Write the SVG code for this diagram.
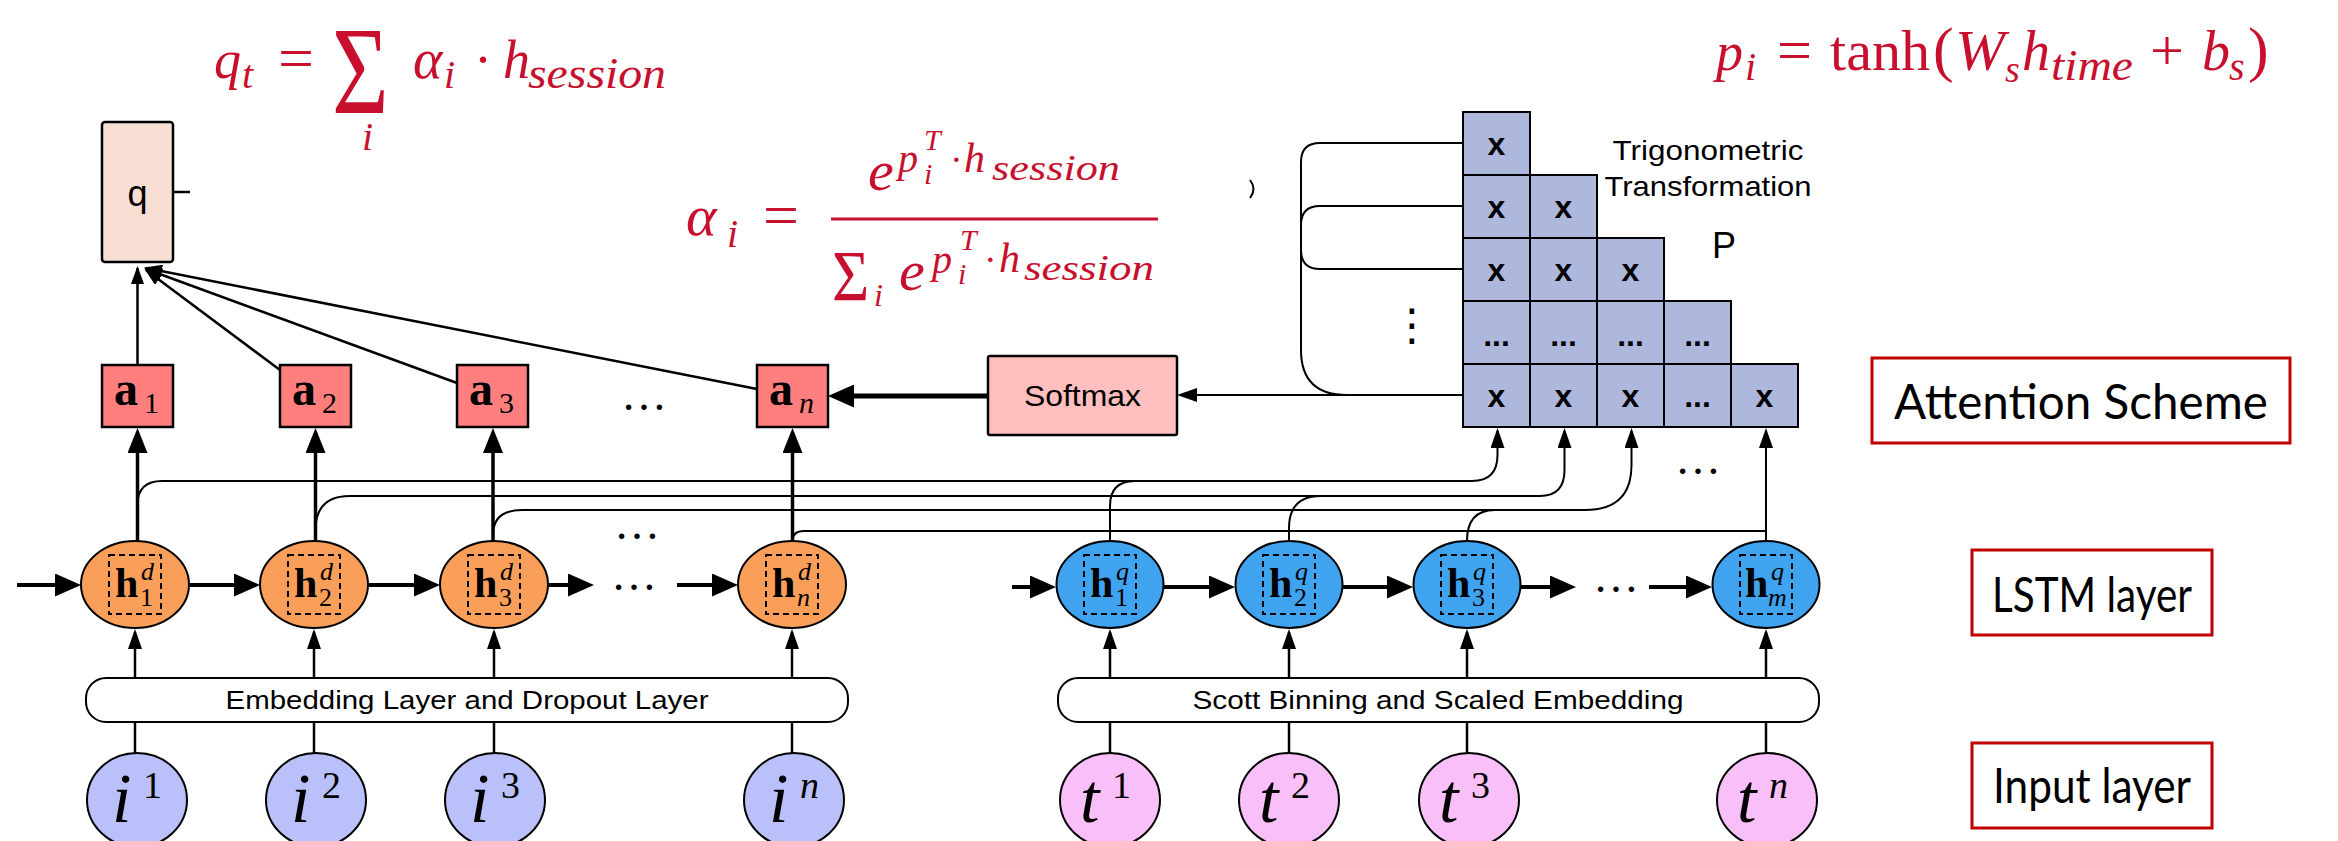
<svg xmlns="http://www.w3.org/2000/svg" width="2338" height="841" viewBox="0 0 2338 841">
<style>
.m{font-family:"Liberation Serif",serif;font-style:italic;fill:#C8102E}
.mu{font-family:"Liberation Serif",serif;fill:#C8102E}
.sans{font-family:"Liberation Sans",Arial,sans-serif;fill:#000}
.lbl{font-family:Lato,"Open Sans",sans-serif;font-size:48px;fill:#000}
.lbox{fill:#fff;stroke:#C00000;stroke-width:3}
.ab{font-family:"Liberation Serif",serif;font-weight:bold;font-size:48px}
.sr{font-family:"Liberation Serif",serif;font-size:30px}
.si{font-family:"Liberation Serif",serif;font-style:italic;font-size:30px}
.hb{font-family:"Liberation Serif",serif;font-weight:bold;font-size:42px}
.sup{font-family:"Liberation Serif",serif;font-style:italic;font-size:26px}
.sub{font-family:"Liberation Serif",serif;font-size:26px}
.big{font-family:"Liberation Serif",serif;font-style:italic;font-size:70px}
.bsup{font-family:"Liberation Serif",serif;font-size:38px}
.bsupi{font-family:"Liberation Serif",serif;font-style:italic;font-size:38px}
.dots{font-family:"Liberation Serif",serif;font-size:46px}
.cell{fill:#AEB8DD;stroke:#000;stroke-width:2}
.cx{font-family:"Liberation Sans",Arial,sans-serif;font-weight:bold;font-size:32px;text-anchor:middle}
.abox{fill:#FF7F7F;stroke:#000;stroke-width:2.5}
.or{fill:#FA9F5A;stroke:#000;stroke-width:2}
.bl{fill:#3FA3F0;stroke:#000;stroke-width:2}
.pi{fill:#BAC0FA;stroke:#000;stroke-width:2}
.pt{fill:#F9BFF8;stroke:#000;stroke-width:2}
.dash{fill:none;stroke:#000;stroke-width:2;stroke-dasharray:6,4}
.ln{fill:none;stroke:#000;stroke-width:2}
.ln25{fill:none;stroke:#000;stroke-width:2.5}
.thick{fill:none;stroke:#000;stroke-width:4}
.vth{fill:none;stroke:#000;stroke-width:3.5}
.rbox{fill:#fff;stroke:#000;stroke-width:2}
</style>
<defs>
<marker id="ht" markerUnits="userSpaceOnUse" markerWidth="26" markerHeight="23" refX="20" refY="11.5" orient="auto"><path d="M0,0 L26,11.5 L0,23 z" fill="#000"/></marker>
<marker id="hv" markerUnits="userSpaceOnUse" markerWidth="25" markerHeight="20" refX="20" refY="10" orient="auto"><path d="M0,0 L25,10 L0,20 z" fill="#000"/></marker>
<marker id="hs" markerUnits="userSpaceOnUse" markerWidth="20" markerHeight="14" refX="17" refY="7" orient="auto"><path d="M0,0 L20,7 L0,14 z" fill="#000"/></marker>
<marker id="hq" markerUnits="userSpaceOnUse" markerWidth="18" markerHeight="13" refX="16" refY="6.5" orient="auto"><path d="M0,0 L18,6.5 L0,13 z" fill="#000"/></marker>
</defs>
<rect width="2338" height="841" fill="#fff"/>

<!-- formulas -->
<g id="formula-q">
<text class="m" x="214" y="78" font-size="54">q</text>
<text class="m" x="242" y="88" font-size="40">t</text>
<text class="mu" x="278" y="78" font-size="60" textLength="36" lengthAdjust="spacingAndGlyphs">=</text>
<text class="mu" transform="translate(332,113) scale(0.87,1.12)" x="0" y="0" font-size="112">Σ</text>
<text class="m" x="362" y="150" font-size="40">i</text>
<text class="m" x="413" y="78" font-size="56">α</text>
<text class="m" x="444" y="88" font-size="40">i</text>
<text class="mu" x="474" y="78" font-size="54">·</text>
<text class="m" x="503" y="78" font-size="54">h</text>
<text class="m" x="528" y="88" font-size="44" textLength="138" lengthAdjust="spacingAndGlyphs">session</text>
</g>
<g id="formula-alpha">
<text class="m" x="686" y="235" font-size="58">α</text>
<text class="m" x="727" y="247" font-size="40">i</text>
<text class="mu" x="763" y="235" font-size="60" textLength="36" lengthAdjust="spacingAndGlyphs">=</text>
<line x1="831" y1="219" x2="1158" y2="219" stroke="#C8102E" stroke-width="3"/>
<text class="m" x="868" y="190" font-size="58">e</text>
<text class="m" x="898" y="172" font-size="40">p</text>
<text class="m" x="924" y="150" font-size="30">T</text>
<text class="m" x="924" y="184" font-size="30">i</text>
<text class="mu" x="950" y="172" font-size="38">·</text>
<text class="m" x="964" y="172" font-size="42">h</text>
<text class="m" x="992" y="180" font-size="36" textLength="128" lengthAdjust="spacingAndGlyphs">session</text>
<text class="mu" transform="translate(832,300) scale(0.89,1)" x="0" y="0" font-size="72">Σ</text>
<text class="m" x="874" y="306" font-size="32">i</text>
<text class="m" x="899" y="290" font-size="58">e</text>
<text class="m" x="932" y="273" font-size="40">p</text>
<text class="m" x="960" y="250" font-size="30">T</text>
<text class="m" x="958" y="284" font-size="30">i</text>
<text class="mu" x="984" y="272" font-size="38">·</text>
<text class="m" x="999" y="272" font-size="42">h</text>
<text class="m" x="1024" y="280" font-size="36" textLength="130" lengthAdjust="spacingAndGlyphs">session</text>
</g>
<g id="formula-p">
<text class="m" x="1716" y="70" font-size="54">p</text>
<text class="m" x="1745" y="80" font-size="40">i</text>
<text class="mu" x="1777" y="70" font-size="60" textLength="35" lengthAdjust="spacingAndGlyphs">=</text>
<text class="mu" x="1830" y="70" font-size="56" textLength="100" lengthAdjust="spacingAndGlyphs">tanh</text>
<text class="mu" x="1933" y="70" font-size="62">(</text>
<text class="m" x="1955" y="70" font-size="56" textLength="50" lengthAdjust="spacingAndGlyphs">W</text>
<text class="m" x="2005" y="82" font-size="38">s</text>
<text class="m" x="2022" y="70" font-size="56">h</text>
<text class="m" x="2051" y="80" font-size="44" textLength="82" lengthAdjust="spacingAndGlyphs">time</text>
<text class="mu" x="2150" y="70" font-size="56" textLength="34" lengthAdjust="spacingAndGlyphs">+</text>
<text class="m" x="2202" y="70" font-size="56">b</text>
<text class="m" x="2229" y="80" font-size="40">s</text>
<text class="mu" x="2248" y="70" font-size="62">)</text>
</g>

<!-- connectors -->
<g id="connectors">
<path class="ln25" d="M137.5,365 V268" marker-end="url(#hq)"/>
<path class="ln25" d="M280,370 L146,270" marker-end="url(#hq)"/>
<path class="ln25" d="M457,383 L146,269" marker-end="url(#hq)"/>
<path class="ln25" d="M757,389 L146,268" marker-end="url(#hq)"/>
<path class="ln25" d="M173,192 H190"/>
<path d="M988,396 H834" stroke="#000" stroke-width="5" fill="none" marker-end="url(#ht)"/>
<path class="ln" d="M1463,395 H1180" marker-end="url(#hs)"/>
<path class="ln" d="M1463,143 H1320 Q1301,143 1301,162 V350 Q1301,395 1347,395"/>
<path class="ln" d="M1463,206 H1320 Q1301,206 1301,225"/>
<path class="ln" d="M1463,269 H1320 Q1301,269 1301,250"/>
<path class="vth" d="M137.5,541 V433" marker-end="url(#hv)"/>
<path class="vth" d="M315.5,541 V433" marker-end="url(#hv)"/>
<path class="vth" d="M493,541 V433" marker-end="url(#hv)"/>
<path class="vth" d="M792.5,541 V433" marker-end="url(#hv)"/>
<path class="ln" d="M137.5,505 Q137.5,481 162,481 H1472 Q1497.5,481 1497.5,455 V431" marker-end="url(#hs)"/>
<path class="ln" d="M1110,541 V506 Q1110,481 1135,481"/>
<path class="ln" d="M315.5,530 Q315.5,496 350,496 H1540 Q1564.5,496 1564.5,470 V431" marker-end="url(#hs)"/>
<path class="ln" d="M1289,541 V528 Q1289,496 1321,496"/>
<path class="ln" d="M493,535 Q493,510 522,510 H1585 Q1631.5,510 1631.5,465 V431" marker-end="url(#hs)"/>
<path class="ln" d="M1467,541 Q1467,510 1495,510"/>
<path class="ln" d="M792.5,541 Q792.5,531 804,531 H1766"/>
<path class="ln" d="M1766,541 V431" marker-end="url(#hs)"/>
<path class="thick" d="M17,585 H75" marker-end="url(#ht)"/>
<path class="thick" d="M189,585 H254" marker-end="url(#ht)"/>
<path class="thick" d="M368,585 H434" marker-end="url(#ht)"/>
<path class="thick" d="M548,585 H588" marker-end="url(#ht)"/>
<path class="thick" d="M677,585 H732" marker-end="url(#ht)"/>
<path class="thick" d="M1012,587 H1050" marker-end="url(#ht)"/>
<path class="thick" d="M1164,587 H1229" marker-end="url(#ht)"/>
<path class="thick" d="M1342,587 H1407" marker-end="url(#ht)"/>
<path class="thick" d="M1521,587 H1570" marker-end="url(#ht)"/>
<path class="thick" d="M1649,587 H1706" marker-end="url(#ht)"/>
<path class="ln25" d="M135,678 V632" marker-end="url(#hs)"/>
<path class="ln25" d="M314,678 V632" marker-end="url(#hs)"/>
<path class="ln25" d="M494,678 V632" marker-end="url(#hs)"/>
<path class="ln25" d="M792,678 V632" marker-end="url(#hs)"/>
<path class="ln25" d="M1110,678 V632" marker-end="url(#hs)"/>
<path class="ln25" d="M1289,678 V632" marker-end="url(#hs)"/>
<path class="ln25" d="M1467,678 V632" marker-end="url(#hs)"/>
<path class="ln25" d="M1766,678 V632" marker-end="url(#hs)"/>
<path class="ln25" d="M135,753 V722"/>
<path class="ln25" d="M314,753 V722"/>
<path class="ln25" d="M494,753 V722"/>
<path class="ln25" d="M792,753 V722"/>
<path class="ln25" d="M1110,753 V722"/>
<path class="ln25" d="M1289,753 V722"/>
<path class="ln25" d="M1467,753 V722"/>
<path class="ln25" d="M1766,753 V722"/>
</g>

<path class="ln" d="M1250,180 Q1257,189 1250,198"/>

<text class="dots" x="611" y="590">…</text>
<text class="dots" x="614" y="539">…</text>
<text class="dots" x="621" y="410">…</text>
<text class="dots" x="1593" y="592">…</text>
<text class="dots" x="1675" y="474">…</text>
<text x="1412" y="340" font-family="DejaVu Sans,sans-serif" font-size="44" text-anchor="middle">⋮</text>

<g id="q">
<rect x="102" y="122" width="71" height="140" rx="3" fill="#F9DFD3" stroke="#000" stroke-width="2.5"/>
<text class="sans" x="137.5" y="206" font-size="36" text-anchor="middle">q</text>
</g>

<g id="a1"><rect class="abox" x="102" y="365" width="71" height="62"/><text class="ab" x="114" y="405">a</text><text class="sr" x="144" y="413">1</text></g>
<g id="a2"><rect class="abox" x="280" y="365" width="71" height="62"/><text class="ab" x="292" y="405">a</text><text class="sr" x="322" y="413">2</text></g>
<g id="a3"><rect class="abox" x="457" y="365" width="71" height="62"/><text class="ab" x="469" y="405">a</text><text class="sr" x="499" y="413">3</text></g>
<g id="an"><rect class="abox" x="757" y="365" width="71" height="62"/><text class="ab" x="769" y="405">a</text><text class="si" x="799" y="413">n</text></g>

<g id="softmax">
<rect x="988" y="356" width="189" height="79" rx="2" fill="#FFBFBF" stroke="#000" stroke-width="2.5"/>
<text class="sans" x="1082.5" y="406" font-size="30" text-anchor="middle" textLength="117" lengthAdjust="spacingAndGlyphs">Softmax</text>
</g>

<g id="grid">
<rect class="cell" x="1463" y="112" width="67" height="63"/>
<rect class="cell" x="1463" y="175" width="67" height="63"/>
<rect class="cell" x="1530" y="175" width="67" height="63"/>
<rect class="cell" x="1463" y="238" width="67" height="63"/>
<rect class="cell" x="1530" y="238" width="67" height="63"/>
<rect class="cell" x="1597" y="238" width="67" height="63"/>
<rect class="cell" x="1463" y="301" width="67" height="63"/>
<rect class="cell" x="1530" y="301" width="67" height="63"/>
<rect class="cell" x="1597" y="301" width="67" height="63"/>
<rect class="cell" x="1664" y="301" width="67" height="63"/>
<rect class="cell" x="1463" y="364" width="67" height="63"/>
<rect class="cell" x="1530" y="364" width="67" height="63"/>
<rect class="cell" x="1597" y="364" width="67" height="63"/>
<rect class="cell" x="1664" y="364" width="67" height="63"/>
<rect class="cell" x="1731" y="364" width="67" height="63"/>
<text class="cx" x="1496.5" y="155">x</text>
<text class="cx" x="1496.5" y="218">x</text>
<text class="cx" x="1563.5" y="218">x</text>
<text class="cx" x="1496.5" y="281">x</text>
<text class="cx" x="1563.5" y="281">x</text>
<text class="cx" x="1630.5" y="281">x</text>
<text class="cx" x="1496.5" y="346">...</text>
<text class="cx" x="1563.5" y="346">...</text>
<text class="cx" x="1630.5" y="346">...</text>
<text class="cx" x="1697.5" y="346">...</text>
<text class="cx" x="1496.5" y="407">x</text>
<text class="cx" x="1563.5" y="407">x</text>
<text class="cx" x="1630.5" y="407">x</text>
<text class="cx" x="1697.5" y="407">...</text>
<text class="cx" x="1764.5" y="407">x</text>
<text class="sans" x="1708" y="160" font-size="28" text-anchor="middle" textLength="191" lengthAdjust="spacingAndGlyphs">Trigonometric</text>
<text class="sans" x="1708" y="196" font-size="28" text-anchor="middle" textLength="207" lengthAdjust="spacingAndGlyphs">Transformation</text>
<text class="sans" x="1712" y="258" font-size="36">P</text>
</g>

<g id="hd1"><ellipse class="or" cx="135" cy="584.5" rx="54" ry="43.5"/><rect class="dash" x="109" y="555" width="52" height="59"/><text class="hb" x="115" y="597">h</text><text class="sup" x="141" y="580">d</text><text class="sub" x="140" y="606">1</text></g>
<g id="hd2"><ellipse class="or" cx="314" cy="584.5" rx="54" ry="43.5"/><rect class="dash" x="288" y="555" width="52" height="59"/><text class="hb" x="294" y="597">h</text><text class="sup" x="320" y="580">d</text><text class="sub" x="319" y="606">2</text></g>
<g id="hd3"><ellipse class="or" cx="494" cy="584.5" rx="54" ry="43.5"/><rect class="dash" x="468" y="555" width="52" height="59"/><text class="hb" x="474" y="597">h</text><text class="sup" x="500" y="580">d</text><text class="sub" x="499" y="606">3</text></g>
<g id="hdn"><ellipse class="or" cx="792" cy="584.5" rx="54" ry="43.5"/><rect class="dash" x="766" y="555" width="52" height="59"/><text class="hb" x="772" y="597">h</text><text class="sup" x="798" y="580">d</text><text class="sup" x="797" y="606">n</text></g>

<g id="hq1"><ellipse class="bl" cx="1110" cy="584.5" rx="53.5" ry="43.5"/><rect class="dash" x="1084" y="555" width="52" height="59"/><text class="hb" x="1090" y="597">h</text><text class="sup" x="1116" y="580">q</text><text class="sub" x="1115" y="606">1</text></g>
<g id="hq2"><ellipse class="bl" cx="1289" cy="584.5" rx="53.5" ry="43.5"/><rect class="dash" x="1263" y="555" width="52" height="59"/><text class="hb" x="1269" y="597">h</text><text class="sup" x="1295" y="580">q</text><text class="sub" x="1294" y="606">2</text></g>
<g id="hq3"><ellipse class="bl" cx="1467" cy="584.5" rx="53.5" ry="43.5"/><rect class="dash" x="1441" y="555" width="52" height="59"/><text class="hb" x="1447" y="597">h</text><text class="sup" x="1473" y="580">q</text><text class="sub" x="1472" y="606">3</text></g>
<g id="hqm"><ellipse class="bl" cx="1766" cy="584.5" rx="53.5" ry="43.5"/><rect class="dash" x="1740" y="555" width="52" height="59"/><text class="hb" x="1745" y="597">h</text><text class="sup" x="1771" y="580">q</text><text class="sup" x="1768" y="606">m</text></g>

<g id="embedding">
<rect class="rbox" x="86" y="678" width="762" height="44" rx="20"/>
<text class="sans" x="467" y="709" font-size="26" text-anchor="middle" textLength="483" lengthAdjust="spacingAndGlyphs">Embedding Layer and Dropout Layer</text>
</g>
<g id="scott">
<rect class="rbox" x="1058" y="678" width="761" height="44" rx="20"/>
<text class="sans" x="1438" y="709" font-size="26" text-anchor="middle" textLength="491" lengthAdjust="spacingAndGlyphs">Scott Binning and Scaled Embedding</text>
</g>

<g id="i1"><ellipse class="pi" cx="137" cy="800" rx="50" ry="47"/><text class="big" x="112" y="822">i</text><text class="bsup" x="143" y="798">1</text></g>
<g id="i2"><ellipse class="pi" cx="316" cy="800" rx="50" ry="47"/><text class="big" x="291" y="822">i</text><text class="bsup" x="322" y="798">2</text></g>
<g id="i3"><ellipse class="pi" cx="495" cy="800" rx="50" ry="47"/><text class="big" x="470" y="822">i</text><text class="bsup" x="501" y="798">3</text></g>
<g id="in"><ellipse class="pi" cx="794" cy="800" rx="50" ry="47"/><text class="big" x="769" y="822">i</text><text class="bsupi" x="800" y="798">n</text></g>
<g id="t1"><ellipse class="pt" cx="1110" cy="800" rx="50" ry="47"/><text class="big" x="1080" y="822">t</text><text class="bsup" x="1112" y="798">1</text></g>
<g id="t2"><ellipse class="pt" cx="1289" cy="800" rx="50" ry="47"/><text class="big" x="1259" y="822">t</text><text class="bsup" x="1291" y="798">2</text></g>
<g id="t3"><ellipse class="pt" cx="1469" cy="800" rx="50" ry="47"/><text class="big" x="1439" y="822">t</text><text class="bsup" x="1471" y="798">3</text></g>
<g id="tn"><ellipse class="pt" cx="1767" cy="800" rx="50" ry="47"/><text class="big" x="1737" y="822">t</text><text class="bsupi" x="1769" y="798">n</text></g>

<g id="attention-label"><rect class="lbox" x="1872" y="358" width="418" height="85"/><text class="lbl" x="2081" y="419" text-anchor="middle" textLength="374" lengthAdjust="spacingAndGlyphs">Attention Scheme</text></g>
<g id="lstm-label"><rect class="lbox" x="1972" y="550" width="240" height="85"/><text class="lbl" x="2092" y="612" text-anchor="middle" textLength="200" lengthAdjust="spacingAndGlyphs">LSTM layer</text></g>
<g id="input-label"><rect class="lbox" x="1972" y="743" width="240" height="85"/><text class="lbl" x="2092" y="803" text-anchor="middle" textLength="198" lengthAdjust="spacingAndGlyphs">Input layer</text></g>
</svg>
